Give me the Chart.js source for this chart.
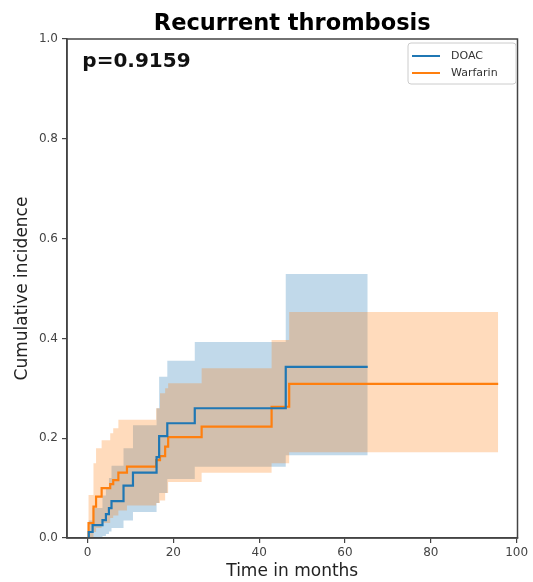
<!DOCTYPE html>
<html><head><meta charset="utf-8">
<script src="https://cdn.jsdelivr.net/npm/chart.js@4.4.0/dist/chart.umd.min.js"></script>
<style>html,body{margin:0;padding:0;background:#fff}#wrap{position:relative;width:533px;height:582px}</style>
</head><body><div id="wrap"><canvas id="c"></canvas></div>
<script>
// ---- data ----
const seriesNames = ['DOAC', 'Warfarin'];
const doacTimes     = [0, 0.3, 1.2, 3.5, 4.3, 5.0, 5.6, 8.4, 10.6, 16.1, 16.7, 18.6, 25.0, 46.2, 65.3];
const doacIncidence = [0, 0.012, 0.026, 0.036, 0.048, 0.060, 0.074, 0.105, 0.131, 0.162, 0.204, 0.230, 0.260, 0.343, 0.343];
const doacUpper     = [0, 0.035, 0.060, 0.085, 0.100, 0.120, 0.145, 0.180, 0.226, 0.260, 0.323, 0.355, 0.393, 0.529, 0.529];
const doacLower     = [0, 0, 0.001, 0.004, 0.008, 0.013, 0.020, 0.035, 0.052, 0.070, 0.090, 0.118, 0.143, 0.166, 0.166];
const warfarinTimes     = [0, 0.25, 1.4, 2.0, 3.3, 5.3, 6.0, 7.2, 9.2, 16.0, 16.9, 18.1, 18.8, 26.6, 42.9, 47.0, 95.7];
const warfarinIncidence = [0, 0.030, 0.063, 0.083, 0.100, 0.108, 0.116, 0.131, 0.143, 0.156, 0.164, 0.183, 0.202, 0.223, 0.263, 0.309, 0.309];
const warfarinUpper     = [0, 0.086, 0.150, 0.180, 0.196, 0.210, 0.220, 0.237, 0.237, 0.260, 0.290, 0.300, 0.310, 0.340, 0.397, 0.453, 0.453];
const warfarinLower     = [0, 0, 0.012, 0.020, 0.030, 0.040, 0.045, 0.055, 0.065, 0.070, 0.075, 0.090, 0.112, 0.131, 0.150, 0.172, 0.172];
const xTicks = [0, 20, 40, 60, 80, 100];
const yTicks = [0, 0.2, 0.4, 0.6, 0.8, 1.0];
const titleText = 'Recurrent thrombosis';
const xTitle = 'Time in months';
const yTitle = 'Cumulative incidence';
const pValueText = 'p=0.9159';

// ---- build chart ----
const pts = (ts, vs) => ts.map((t, i) => ({x: t, y: vs[i]}));
const BLUE = '#1f77b4', ORANGE = '#ff7f0e';
const BLUE_BAND = 'rgba(31,119,180,0.28)', ORANGE_BAND = 'rgba(255,127,14,0.28)';
const FONT = "'DejaVu Sans', sans-serif";

const lineDs = (label, data, color) => ({label, data, borderColor: color, backgroundColor: color,
  borderWidth: 2.2, stepped: 'before', pointRadius: 0, fill: false, isMain: true});
const bandDs = (data, fill, bg) => ({label: '', data, borderColor: 'rgba(0,0,0,0)', borderWidth: 0,
  backgroundColor: bg, stepped: 'before', pointRadius: 0, fill});

const decor = {
  id: 'decor',
  afterDraw(chart) {
    const {ctx, chartArea: a, scales} = chart;
    ctx.save();
    ctx.strokeStyle = '#444'; ctx.lineWidth = 1.5;
    ctx.strokeRect(a.left, a.top, a.right - a.left, a.bottom - a.top);
    // p-value annotation
    ctx.fillStyle = '#111';
    ctx.font = 'bold 20px ' + FONT;
    ctx.textBaseline = 'alphabetic'; ctx.textAlign = 'left';
    ctx.fillText(pValueText, scales.x.getPixelForValue(-1.2), scales.y.getPixelForValue(0.943));
    // legend box
    const bx = 408, by = 43, bw = 108, bh = 41;
    ctx.fillStyle = 'rgba(255,255,255,0.8)';
    ctx.strokeStyle = '#cccccc'; ctx.lineWidth = 1;
    ctx.beginPath();
    if (ctx.roundRect) ctx.roundRect(bx, by, bw, bh, 3); else ctx.rect(bx, by, bw, bh);
    ctx.fill(); ctx.stroke();
    const mains = chart.data.datasets.filter(d => d.isMain);
    ctx.font = '11px ' + FONT; ctx.textBaseline = 'middle';
    mains.forEach((d, i) => {
      const y = by + 13 + i * 17;
      ctx.strokeStyle = d.borderColor; ctx.lineWidth = 2;
      ctx.beginPath(); ctx.moveTo(bx + 4, y); ctx.lineTo(bx + 32, y); ctx.stroke();
      ctx.fillStyle = '#333';
      ctx.fillText(d.label, bx + 43, y);
    });
    ctx.restore();
  }
};

new Chart(document.getElementById('c'), {
  type: 'line',
  data: {
    datasets: [
      lineDs(seriesNames[0], pts(doacTimes, doacIncidence), BLUE),
      lineDs(seriesNames[1], pts(warfarinTimes, warfarinIncidence), ORANGE),
      bandDs(pts(warfarinTimes, warfarinUpper), '+1', ORANGE_BAND),
      bandDs(pts(warfarinTimes, warfarinLower), false, ORANGE_BAND),
      bandDs(pts(doacTimes, doacUpper), '+1', BLUE_BAND),
      bandDs(pts(doacTimes, doacLower), false, BLUE_BAND)
    ]
  },
  options: {
    responsive: true, maintainAspectRatio: false, animation: false,
    layout: {padding: {left: 0, right: 15.5, top: 0, bottom: 0}},
    plugins: {
      legend: {display: false},
      tooltip: {enabled: false},
      filler: {drawTime: 'beforeDatasetsDraw'},
      title: {display: true, text: titleText, fullSize: false, color: '#000',
        font: {family: FONT, size: 22.5, weight: 'bold'}, padding: {top: 11, bottom: 1}}
    },
    scales: {
      x: {
        type: 'linear', min: -4.77, max: 100.2,
        afterBuildTicks: s => { s.ticks = xTicks.map(v => ({value: v})); },
        afterFit: s => { s.height = 44; },
        ticks: {color: '#444', font: {family: FONT, size: 12}, padding: 3, maxRotation: 0,
          callback: v => String(v)},
        grid: {display: true, drawOnChartArea: false, drawTicks: true, tickLength: 5, color: '#444', lineWidth: 1.2},
        border: {display: true, color: '#444', width: 1.5},
        title: {display: true, text: xTitle, color: '#222', font: {family: FONT, size: 17}, padding: {top: 0, bottom: 0}}
      },
      y: {
        type: 'linear', min: 0, max: 1.0,
        afterBuildTicks: s => { s.ticks = yTicks.map(v => ({value: v})); },
        afterFit: s => { s.width = 67; },
        ticks: {color: '#444', font: {family: FONT, size: 12}, padding: 4,
          callback: v => Number(v).toFixed(1)},
        grid: {display: true, drawOnChartArea: false, drawTicks: true, tickLength: 5, color: '#444', lineWidth: 1.2},
        border: {display: true, color: '#444', width: 1.5},
        title: {display: true, text: yTitle, color: '#222', font: {family: FONT, size: 17}, padding: {top: 12, bottom: 0}}
      }
    }
  },
  plugins: [decor]
});
</script>
</body></html>
